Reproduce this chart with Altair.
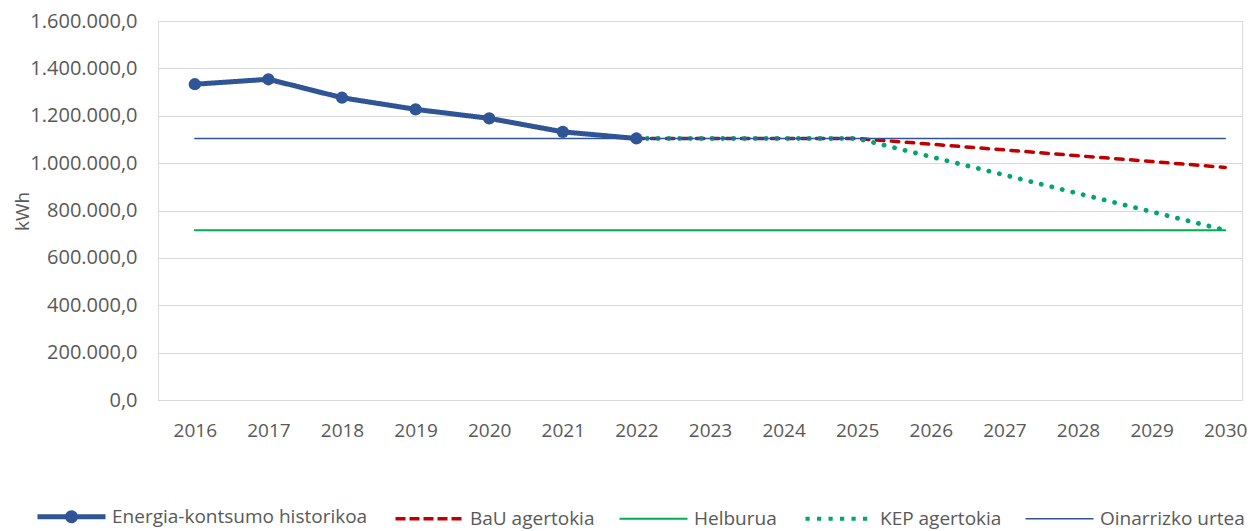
import math
import altair as alt
import pandas as pd

# ---- data ----
years = [2016, 2017, 2018, 2019, 2020, 2021, 2022, 2023,
         2024, 2025, 2026, 2027, 2028, 2029, 2030]
hist_years = [2016, 2017, 2018, 2019, 2020, 2021, 2022]
hist_values = [1333000, 1354000, 1276000, 1227000, 1189000, 1132000, 1104000]
scen_years = [2022, 2023, 2024, 2025, 2026, 2027, 2028, 2029, 2030]
bau_values = [1104000, 1104000, 1104000, 1104000, 1080000, 1056000, 1031000, 1007000, 982000]
kep_values = [1104000, 1104000, 1104000, 1104000, 1027000, 950000, 872000, 795000, 717000]
target_value = 717000
base_value = 1104000
y_ticks = [0, 200000, 400000, 600000, 800000, 1000000, 1200000, 1400000, 1600000]

series = ["Energia-kontsumo historikoa", "BaU agertokia", "Helburua",
          "KEP agertokia", "Oinarrizko urtea"]
colors = ["#2F5597", "#C00000", "#00B050", "#00A66B", "#2F5597"]
widths = [5, 3.5, 2, 4.8, 1.5]
dashes = [[1, 0], [7.5, 7.5], [1, 0], [0.1, 10.7], [1, 0]]

rows = []
for yr, v in zip(hist_years, hist_values):
    rows.append({"series": series[0], "year": yr, "value": v})
for yr, v in zip(scen_years, bau_values):
    rows.append({"series": series[1], "year": yr, "value": v})
for yr in years:
    rows.append({"series": series[2], "year": yr, "value": target_value})
for yr, v in zip(scen_years, kep_values):
    rows.append({"series": series[3], "year": yr, "value": v})
for yr in years:
    rows.append({"series": series[4], "year": yr, "value": base_value})
df = pd.DataFrame(rows)

FONT = "Open Sans"
TXT = "#595959"

# legend symbol for the historic series: a line with a dot on it
def ring(r, n=20):
    pts = [(r * math.cos(2 * math.pi * i / n), r * math.sin(2 * math.pi * i / n)) for i in range(n)]
    return "M" + "L".join(f"{x:.3f},{y:.3f}" for x, y in pts) + "Z"

hist_symbol = "M-1,0L1,0" + ring(0.118) + ring(0.045)

sym_expr = f"datum.value == '{series[0]}' ? '{hist_symbol}' : 'stroke'"
sw_expr = " : ".join(f"datum.value == '{s}' ? {w}" for s, w in zip(series, [5, 3.5, 2, 4.2, 1.5])) + " : 1.5"
dash_expr = (f"datum.value == '{series[1]}' ? [10, 4] : "
             f"datum.value == '{series[3]}' ? [4.2, 7.3] : [1, 0]")

# category slots: half a slot of margin before the first year
x_enc = alt.X("year:Q",
              scale=alt.Scale(domain=[2015.5, 2030.228], nice=False, zero=False),
              axis=alt.Axis(title=None, values=years, format="d", labelAngle=0, ticks=False,
                            domain=False, grid=False, labelFlush=False,
                            labelPadding=21, labelFontSize=19, labelColor=TXT, labelFont=FONT))
y_enc = alt.Y("value:Q",
              scale=alt.Scale(domain=[0, 1600000], nice=False, zero=True),
              axis=alt.Axis(values=y_ticks, format=",.1f", ticks=False, domain=False,
                            gridColor="#D9D9D9", gridWidth=1.2,
                            labelPadding=21, labelFontSize=20, labelColor=TXT, labelFont=FONT,
                            title="kWh", titleFont=FONT, titleFontSize=19, titleColor=TXT,
                            titleFontWeight="normal", titleAngle=-90, titleX=-136, titleY=190,
                            titleAlign="center", titleBaseline="middle"))
color_scale = alt.Scale(domain=series, range=colors)

base = alt.Chart(df)

lines = base.mark_line(strokeCap="round", strokeJoin="round").encode(
    x=x_enc,
    y=y_enc,
    color=alt.Color("series:N", scale=color_scale, sort=series,
                    legend=alt.Legend(
                        title=None, orient="none", direction="horizontal",
                        legendX=-120, legendY=486, padding=0,
                        symbolSize=4624, symbolType={"expr": sym_expr},
                        symbolStrokeWidth={"expr": sw_expr},
                        symbolDash={"expr": dash_expr},
                        symbolOffset=24,
                        labelFont=FONT, labelFontSize=19, labelColor=TXT,
                        labelOffset=31, columnPadding=20, labelLimit=400)),
    strokeWidth=alt.value(1.5, condition=[{"test": f"datum.series == '{s}'", "value": w}
                                          for s, w in zip(series, widths)]),
    strokeDash=alt.value([1, 0], condition=[{"test": f"datum.series == '{s}'", "value": d}
                                             for s, d in zip(series, dashes)]),
)

points = base.transform_filter(alt.datum.series == series[0]).mark_circle(
    size=150, opacity=1
).encode(
    x=x_enc,
    y=y_enc,
    color=alt.Color("series:N", scale=color_scale, legend=None),
)

chart = alt.layer(lines, points).properties(
    width=1084, height=379,
    padding={"left": 150, "top": 13, "right": 6, "bottom": 131},
    autosize="none",
).configure_view(stroke=None).configure(
    font=FONT,
    locale={"number": {"decimal": ",", "thousands": ".", "grouping": [3],
                       "currency": ["", " €"]}},
)

chart.save("out.html", embed_options={"renderer": "svg", "actions": False})
